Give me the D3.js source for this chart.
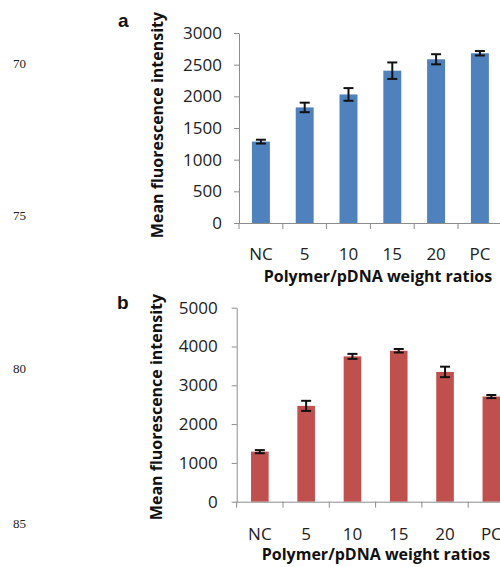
<!DOCTYPE html>
<html>
<head>
<meta charset="utf-8">
<script src="https://cdn.jsdelivr.net/npm/d3@7"></script>
<style>
  html, body { margin: 0; padding: 0; background: #fff; }
  svg { display: block; }
</style>
</head>
<body>
<svg id="chart" width="500" height="567"></svg>
<script>
// ---- data ----
const categories = ["NC", "5", "10", "15", "20", "PC"];
const valuesA = [1285, 1825, 2030, 2405, 2585, 2680];
const errorsA = [30, 75, 100, 130, 80, 35];
const ticksA = [0, 500, 1000, 1500, 2000, 2500, 3000];
const valuesB = [1290, 2470, 3745, 3890, 3345, 2710];
const errorsB = [40, 130, 65, 45, 135, 40];
const ticksB = [0, 1000, 2000, 3000, 4000, 5000];
const lineNumbers = [
  {label: "70", y: 68},
  {label: "75", y: 220},
  {label: "80", y: 373},
  {label: "85", y: 528}
];

const svg = d3.select("#chart");
const axisColor = "#8c8c8c";
const tickFont = "'Open Sans', 'Noto Sans', sans-serif";

// line numbers (page margin)
svg.selectAll("text.ln").data(lineNumbers).enter().append("text")
  .attr("class", "ln")
  .attr("x", 13).attr("y", d => d.y)
  .attr("font-family", "'Liberation Serif', 'DejaVu Serif', serif")
  .attr("font-size", 13).attr("fill", "#222")
  .text(d => d.label);

function panel(cfg) {
  const g = svg.append("g");
  const x = d3.scaleBand()
    .domain(categories)
    .range([cfg.x0, cfg.x0 + cfg.step * categories.length])
    .paddingInner(cfg.pad).paddingOuter(cfg.pad / 2);
  const y = d3.scaleLinear().domain([0, cfg.max]).range([cfg.y0, cfg.y1]);
  const data = categories.map((c, i) => ({c, v: cfg.values[i], e: cfg.errors[i]}));

  // bars
  g.selectAll("rect.bar").data(data).enter().append("rect")
    .attr("x", d => x(d.c)).attr("width", x.bandwidth())
    .attr("y", d => y(d.v)).attr("height", d => y(0) - y(d.v))
    .attr("fill", cfg.color);

  // y axis
  const ya = g.append("g").attr("transform", `translate(${cfg.x0},0)`)
    .call(d3.axisLeft(y).tickValues(cfg.ticks).tickFormat(d3.format("d"))
      .tickSize(5).tickSizeOuter(0).tickPadding(cfg.tickPad));
  ya.select(".domain").attr("stroke", axisColor);
  ya.selectAll(".tick line").attr("stroke", axisColor);
  ya.selectAll(".tick text").attr("font-family", tickFont).attr("font-size", 17).attr("fill", "#222");

  // x axis
  const xa = g.append("g").attr("transform", `translate(0,${cfg.y0})`)
    .call(d3.axisBottom(x).tickSize(0).tickSizeOuter(0).tickPadding(cfg.xLabelPad));
  xa.select(".domain").attr("stroke", axisColor).attr("d", `M${cfg.x0},0.5H${cfg.x0 + cfg.step * categories.length}`);
  xa.selectAll(".tick text").attr("font-family", tickFont).attr("font-size", 17).attr("fill", "#222");
  // category boundary ticks
  const bounds = categories.map(c => x(c) + x.bandwidth() / 2 - x.step() / 2);
  xa.selectAll("line.bound").data(bounds).enter().append("line")
    .attr("class", "bound")
    .attr("x1", d => d).attr("x2", d => d).attr("y1", 0).attr("y2", 6)
    .attr("stroke", axisColor);

  // error bars
  const eb = g.selectAll("g.err").data(data).enter().append("g")
    .attr("stroke", "#111").attr("stroke-width", 2);
  eb.append("line")
    .attr("x1", d => x(d.c) + x.bandwidth() / 2).attr("x2", d => x(d.c) + x.bandwidth() / 2)
    .attr("y1", d => y(d.v + d.e)).attr("y2", d => y(d.v - d.e));
  eb.append("line")
    .attr("x1", d => x(d.c) + x.bandwidth() / 2 - 5).attr("x2", d => x(d.c) + x.bandwidth() / 2 + 5)
    .attr("y1", d => y(d.v + d.e)).attr("y2", d => y(d.v + d.e));
  eb.append("line")
    .attr("x1", d => x(d.c) + x.bandwidth() / 2 - 5).attr("x2", d => x(d.c) + x.bandwidth() / 2 + 5)
    .attr("y1", d => y(d.v - d.e)).attr("y2", d => y(d.v - d.e));

  // axis titles
  g.append("text")
    .attr("transform", `translate(${cfg.yTitleX},${cfg.yTitleY}) rotate(-90)`)
    .attr("text-anchor", "middle")
    .attr("font-family", tickFont).attr("font-weight", "bold").attr("font-size", 16)
    .attr("fill", "#111")
    .text("Mean fluorescence intensity");
  g.append("text")
    .attr("x", cfg.xTitleX).attr("y", cfg.xTitleY)
    .attr("text-anchor", "middle")
    .attr("font-family", tickFont).attr("font-weight", "bold").attr("font-size", 16)
    .attr("fill", "#111")
    .text("Polymer/pDNA weight ratios");

  // panel letter
  g.append("text")
    .attr("x", cfg.letterX).attr("y", cfg.letterY)
    .attr("font-family", "'Liberation Sans', Arial, sans-serif").attr("font-weight", "bold")
    .attr("font-size", 19).attr("fill", "#111")
    .text(cfg.letter);
}

panel({
  letter: "a", letterX: 118, letterY: 27,
  x0: 239, step: 43.8, pad: 0.59,
  y0: 223, y1: 33, max: 3000,
  values: valuesA, errors: errorsA, ticks: ticksA,
  color: "#4f81bd", tickPad: 12, xLabelPad: 25,
  yTitleX: 163, yTitleY: 125,
  xTitleX: 378, xTitleY: 282
});

panel({
  letter: "b", letterX: 117, letterY: 309,
  x0: 236.7, step: 46.3, pad: 0.62,
  y0: 501.7, y1: 307.7, max: 5000,
  values: valuesB, errors: errorsB, ticks: ticksB,
  color: "#c0504d", tickPad: 14, xLabelPad: 26,
  yTitleX: 162, yTitleY: 407,
  xTitleX: 376, xTitleY: 560
});
</script>
</body>
</html>
